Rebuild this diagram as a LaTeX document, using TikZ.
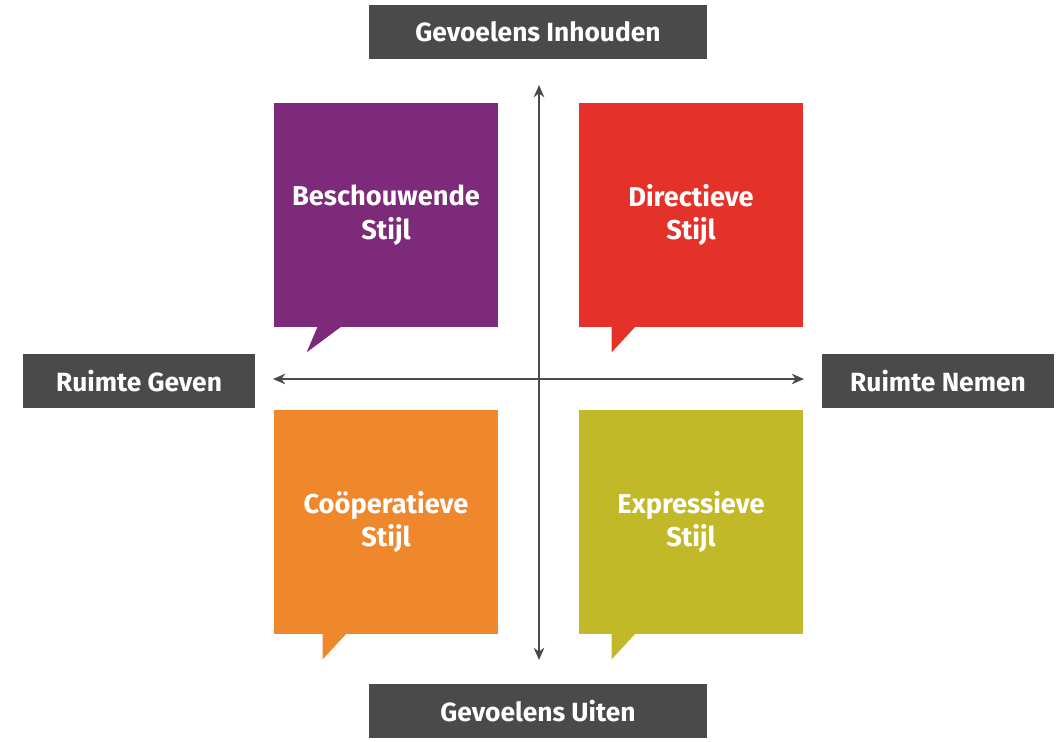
\documentclass[tikz,border=0pt]{standalone}
\usepackage{fontspec}
\setmainfont{Fira Sans}
\usetikzlibrary{positioning, arrows.meta}
\definecolor{labelgray}{HTML}{4A4A4A}
\definecolor{stylepurple}{HTML}{7D2A7A}
\definecolor{stylered}{HTML}{E4322B}
\definecolor{styleorange}{HTML}{EF872D}
\definecolor{styleolive}{HTML}{C2B928}
\tikzset{
        x=0.02cm, y=-0.02cm,
        axislabel/.style={fill=labelgray, text=white, font=\fontsize{15}{18}\selectfont\bfseries,
            minimum height=1.08cm, inner sep=0pt}, % grey boxes at the ends of the axes
        stylebox/.style={minimum size=4.48cm, inner sep=0pt, text=white, align=center,
            font=\fontsize{15.5}{19}\selectfont\bfseries}, % the four speech bubbles
        axis/.style={{Stealth[length=7pt,width=6pt]}-{Stealth[length=7pt,width=6pt]}, draw=labelgray, thick},
    }
\begin{document}
\begin{tikzpicture}
    \useasboundingbox (0,0) rectangle (1060,741);
    % labels
    \node[axislabel, minimum width=6.76cm] (top) at (538,32) {Gevoelens Inhouden};
    \node[axislabel, minimum width=6.76cm] (bottom) at (538,711) {Gevoelens Uiten};
    \node[axislabel, minimum width=4.64cm] (left) at (139,381) {Ruimte Geven};
    \node[axislabel, minimum width=4.66cm] (right) at (938,381) {Ruimte Nemen};
    % axes
    \coordinate (n) at (539,85);
    \coordinate (s) at (539,660);
    \coordinate (w) at (273,379);
    \coordinate (e) at (804,379);
    \draw[axis] (n) -- (s);
    \draw[axis] (w) -- (e);
    % bubbles
    \node[stylebox, fill=stylepurple] (beschouwend) at (386,215) {Beschouwende\\Stijl};
    \node[stylebox, fill=stylered] (directief) at (691,215) {Directieve\\Stijl};
    \node[stylebox, fill=styleorange] (cooperatief) at (386,522) {Coöperatieve\\Stijl};
    \node[stylebox, fill=styleolive] (expressief) at (691,522) {Expressieve\\Stijl};
    \fill[stylepurple] (beschouwend.south west) ++(44,-1) -- ++(24,0) -- ++(-35,26) -- cycle;
    \fill[stylered] (directief.south west) ++(33,-1) -- ++(24,0) -- ++(-24,26) -- cycle;
    \fill[styleorange] (cooperatief.south west) ++(49,-1) -- ++(24,0) -- ++(-24,26) -- cycle;
    \fill[styleolive] (expressief.south west) ++(33,-1) -- ++(24,0) -- ++(-24,26) -- cycle;
\end{tikzpicture}
\end{document}
